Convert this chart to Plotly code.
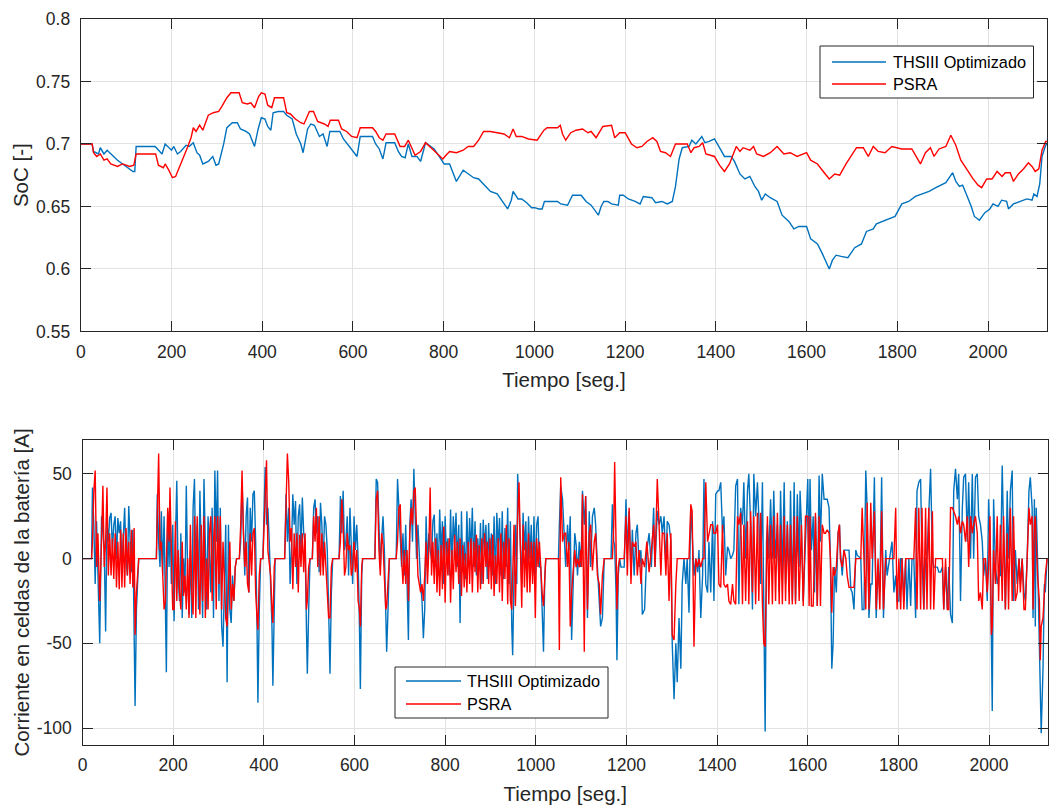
import plotly.graph_objects as go

# ---------------- Upper panel: SoC ----------------
soc_t_ths = [0,25,28,39,43,51,58,66,81,96,107,115,119,122,164,171,179,186,194,200,205,213,220,232,239,248,256,262,269,281,291,298,304,315,322,334,345,352,364,372,383,391,398,406,412,419,424,435,447,454,466,475,485,490,500,507,515,526,534,543,549,564,571,579,594,601,609,616,643,650,658,666,673,692,700,707,715,722,730,741,749,760,768,779,790,801,813,828,843,854,866,877,888,903,918,937,941,949,953,964,972,983,994,1000,1010,1017,1022,1051,1058,1073,1084,1103,1114,1125,1136,1141,1147,1153,1162,1170,1185,1188,1196,1207,1222,1233,1240,1259,1267,1281,1293,1304,1311,1319,1326,1341,1347,1356,1369,1376,1385,1397,1408,1419,1434,1441,1453,1464,1475,1486,1494,1501,1509,1520,1535,1546,1561,1572,1583,1600,1609,1624,1635,1643,1650,1657,1665,1676,1691,1706,1721,1732,1747,1754,1769,1780,1795,1810,1825,1840,1855,1870,1885,1907,1922,1929,1937,1944,1952,1963,1970,1981,1993,2004,2011,2022,2030,2041,2045,2056,2071,2086,2097,2101,2108,2114,2119,2127,2130]
soc_ths = [0.700,0.700,0.694,0.692,0.697,0.692,0.695,0.692,0.687,0.683,0.680,0.678,0.678,0.698,0.698,0.695,0.692,0.700,0.697,0.695,0.698,0.692,0.694,0.699,0.698,0.701,0.693,0.691,0.684,0.686,0.690,0.683,0.684,0.700,0.713,0.717,0.717,0.712,0.710,0.708,0.698,0.712,0.721,0.720,0.714,0.711,0.725,0.726,0.726,0.723,0.720,0.708,0.700,0.693,0.712,0.716,0.715,0.706,0.708,0.698,0.710,0.710,0.710,0.704,0.697,0.694,0.690,0.706,0.706,0.700,0.696,0.688,0.701,0.701,0.694,0.690,0.689,0.700,0.690,0.690,0.686,0.701,0.699,0.696,0.690,0.684,0.684,0.670,0.679,0.676,0.673,0.672,0.668,0.662,0.660,0.650,0.648,0.655,0.662,0.656,0.656,0.653,0.649,0.649,0.648,0.648,0.654,0.654,0.652,0.651,0.659,0.659,0.654,0.651,0.645,0.643,0.650,0.654,0.654,0.652,0.651,0.659,0.659,0.656,0.654,0.652,0.658,0.657,0.653,0.654,0.652,0.654,0.666,0.688,0.697,0.698,0.703,0.700,0.706,0.701,0.702,0.704,0.697,0.690,0.690,0.686,0.676,0.672,0.674,0.666,0.662,0.655,0.660,0.657,0.654,0.643,0.638,0.632,0.634,0.634,0.624,0.620,0.612,0.605,0.600,0.607,0.611,0.610,0.609,0.617,0.620,0.630,0.632,0.636,0.638,0.640,0.642,0.652,0.654,0.658,0.660,0.662,0.665,0.669,0.677,0.670,0.666,0.667,0.660,0.650,0.642,0.639,0.645,0.648,0.652,0.650,0.655,0.654,0.648,0.652,0.654,0.656,0.655,0.660,0.658,0.668,0.690,0.699,0.700]

soc_t_psra = [0,25,28,35,43,51,58,66,81,92,100,107,117,122,165,171,182,186,194,202,209,217,228,236,243,248,254,262,269,281,292,304,311,322,331,349,356,367,375,383,392,398,406,412,421,427,447,454,462,473,485,492,504,513,522,537,545,550,568,575,586,597,609,616,643,650,658,666,673,692,704,714,722,730,737,749,760,775,786,798,805,813,828,843,854,866,877,888,903,918,933,945,953,960,972,987,999,1006,1021,1028,1051,1057,1062,1069,1080,1092,1106,1118,1125,1136,1151,1170,1177,1188,1200,1214,1226,1237,1248,1261,1270,1278,1289,1300,1311,1337,1345,1352,1363,1371,1378,1397,1408,1419,1430,1445,1453,1460,1475,1483,1490,1505,1520,1535,1550,1564,1579,1600,1609,1624,1639,1650,1662,1673,1687,1702,1710,1725,1736,1747,1758,1773,1788,1810,1832,1851,1862,1873,1881,1892,1907,1918,1929,1940,1952,1967,1978,1986,1997,2009,2020,2031,2038,2049,2056,2067,2078,2089,2097,2104,2112,2119,2127,2130]
soc_psra = [0.700,0.700,0.693,0.690,0.692,0.687,0.688,0.684,0.682,0.684,0.683,0.682,0.683,0.692,0.692,0.683,0.681,0.684,0.679,0.673,0.674,0.681,0.690,0.698,0.705,0.713,0.710,0.715,0.711,0.723,0.725,0.726,0.730,0.737,0.741,0.741,0.733,0.732,0.733,0.729,0.738,0.741,0.740,0.731,0.729,0.737,0.737,0.725,0.724,0.720,0.717,0.716,0.726,0.726,0.718,0.716,0.714,0.719,0.719,0.712,0.710,0.706,0.705,0.713,0.713,0.710,0.705,0.703,0.708,0.708,0.698,0.698,0.703,0.697,0.691,0.694,0.701,0.696,0.692,0.688,0.691,0.694,0.693,0.695,0.698,0.698,0.703,0.710,0.710,0.709,0.708,0.705,0.712,0.706,0.706,0.704,0.703,0.703,0.711,0.713,0.713,0.715,0.708,0.703,0.709,0.711,0.712,0.709,0.710,0.705,0.714,0.715,0.705,0.709,0.709,0.700,0.697,0.698,0.702,0.705,0.702,0.694,0.693,0.690,0.700,0.700,0.693,0.697,0.698,0.701,0.692,0.690,0.683,0.678,0.684,0.698,0.694,0.697,0.695,0.698,0.692,0.690,0.693,0.698,0.692,0.693,0.690,0.693,0.687,0.684,0.677,0.672,0.676,0.675,0.684,0.692,0.697,0.697,0.690,0.698,0.694,0.693,0.698,0.696,0.696,0.684,0.693,0.697,0.690,0.696,0.698,0.707,0.699,0.687,0.680,0.672,0.667,0.665,0.672,0.672,0.678,0.674,0.677,0.677,0.670,0.676,0.680,0.685,0.682,0.678,0.680,0.695,0.702,0.702]

# ---------------- Lower panel: battery cell current [A] ----------------
t_a = [0,20,22,25,28,31,34,38,42,45,48,51,54,57,60,63,66,69,72,75,78,81,84,87,90,93,96,99,102,105,108,111,114,116,119,124,
       163,165,168,171,174,177,180,183,185,188,191,193,196,199,202,205,208,211,214,217,220,223,226,229,232,235,238,241,244,247,250,253,256,259,262,265,268,271,274,277,280,283,286,289,292,295,298,301,304,307,310,313,316,319,322,325,328,331,334,337,340,
       346,349,352,355,358,361,364,367,370,373,376,379,382,385,387,390,393,398,401,403,406,409,412,415,418,420,423,425,
       446,449,452,455,458,461,464,467,470,473,476,479,482,485,488,491,494,496,499,502,507,510,513,516,519,522,525,528]
ths_a = [0,0,42,20,-15,22,-8,-50,25,15,5,-43,22,10,24,27,5,20,25,0,24,15,22,-5,10,30,0,-10,31,5,-8,17,-45,-87,-30,0,
         0,38,10,-5,28,-10,25,-57,-67,28,-5,30,-15,20,-37,10,46,-10,-25,15,-35,0,-20,43,-10,-33,5,-35,30,47,-10,20,-30,40,5,-35,47,10,-30,25,-5,-20,30,-35,52,10,52,-25,30,-40,-52,-20,20,-73,20,-30,-38,-10,-25,-5,0,
         0,10,45,20,-10,25,36,-20,30,10,38,40,10,-40,-85,-30,0,0,30,54,20,30,10,-15,-40,-75,-20,0,
         0,38,10,30,-15,5,38,20,34,-15,25,32,5,36,15,10,-40,-68,-30,0,0,30,35,15,25,-8,33,20]
psra_a = [0,0,10,40,52,-5,15,-25,10,43,-5,10,42,-10,15,-10,12,-12,15,-17,10,-18,17,-17,15,-17,18,-10,10,-15,17,-17,18,-45,-20,0,
          0,20,62,5,10,-10,-30,-25,-5,30,10,42,5,-30,-30,22,-25,5,-20,-30,10,-22,-10,-30,0,-35,20,-20,-33,25,-35,25,-10,-33,20,-25,25,-35,0,-30,15,25,-25,10,25,-30,25,-15,25,-30,10,-20,-35,-40,-15,10,-30,-15,-25,-5,0,
          0,20,52,15,-5,10,-15,-20,15,-10,15,18,-20,-35,-42,-10,0,0,20,40,58,5,-5,-10,-30,-38,-5,0,
          0,25,62,45,10,18,-18,15,-5,15,-20,14,-5,15,-8,15,-30,-25,-5,0,0,25,10,30,-5,25,-10,15]

t_b = [531,534,537,540,543,546,549,552,
       566,569,572,575,578,581,584,587,590,593,596,599,602,605,608,611,613,616,618,
       645,648,651,654,657,660,663,666,669,671,674,677,
       692,695,698,701,704,707,710,713,716,719,722,725,728,731,734,737,740,743,746,749,752,755,758,761,764,767,770,773]
ths_b = [-5,25,20,5,-30,-68,-20,0,
         0,37,15,40,5,10,25,-10,30,0,-15,25,5,20,0,-40,-77,-10,0,
         0,47,45,20,-5,12,25,5,-40,-55,-30,0,
         0,47,30,10,-5,15,-10,20,-15,-48,20,35,10,53,25,0,20,0,-15,-25,-47,-30,25,-5,15,5,0,22]
psra_b = [-10,10,-5,-25,-35,-35,-5,0,
          0,10,35,20,-10,-5,15,5,8,-10,-5,10,-8,5,-25,-30,-40,-5,0,
          0,35,40,5,-10,15,8,-10,-30,-28,-15,0,
          0,10,30,32,0,-15,5,-15,5,-25,15,30,20,40,42,10,-10,-15,-20,-15,-25,-10,10,-15,5,42,-10,10]

t_c = [776,779,782,785,788,791,794,797,800,803,806,809,812,815,818,821,824,827,830,833,836,839,842,845,848,851,854,857,860,863,866,869,872,875,878,881,884,887,890,893,896,899,902,905,908,911,914,917,920,923,926,929,932,935,938,941,944,
       947,949,952,955,958,
       960,963,966,969,972,975,978,981,984,987,990,993,996,999,1002,1005,1008,1011,1014,1017,1020,1022,1048]
ths_c = [26,-5,15,-10,29,2,22,-15,25,0,12,-10,29,-5,25,8,27,-5,20,-38,28,-8,10,-12,28,-5,24,3,30,-5,22,-10,12,-5,21,-15,23,5,20,-12,21,-5,15,-10,25,-15,27,6,24,-10,28,-12,18,-5,30,-15,22,
         -40,-57,-10,20,-15,
         50,30,10,-15,27,5,22,-10,25,0,20,-10,25,-10,20,25,-5,-5,-30,-55,-10,0,0]
psra_c = [-15,12,-20,5,-22,8,-18,19,-26,10,-10,12,-26,5,-18,14,-8,10,-15,12,-22,8,-17,3,-20,10,-15,12,-20,10,-8,14,-20,8,-18,12,-15,15,-5,10,-15,12,-18,14,-22,2,-15,12,-20,15,-25,10,-12,20,-27,12,-25,
          -30,-10,20,-28,10,
          25,45,0,-29,20,-17,10,-20,15,-20,10,-15,10,-35,12,-5,10,-10,-20,-28,-5,0,0]

t_d = [1050,1052,1055,1059,1063,1066,1070,1073,1076,1079,1083,1086,1089,1092,1096,1099,1101,1103,1107,1110,
       1114,1118,1121,1125,1129,1132,1136,1140,1143,1147,1151,1166,1169,1172,1174,1177,1179,1182,1185,1188,
       1195,1199,1202,1206,1210,1213,1217,1221,1224,1228,1232,1235,1240,1245,1250,1255,1260,1263,1268,1272,
       1276,1279,1283,1287,1290,1294,1298,1301,1305,1309,1312,1316,1320,1323,1327,1331,1334,1338,1342,1345,
       1349,1353,1357,1360,1364,1368,1371,1375,1379,1382,1386,1390,1393,1397,1401,1404,1408,1412,1415,1419,
       1423,1426,1430,1434,1437,1441,1445,1448,1452,1456,1459,1463,1467,1470,1474,1478,1481,1485,1489,1492,
       1496,1500,1503,1506,1509,1511,1514,1518,1522,1525,1529,1533,1537,1540,1544,1548,1551,1555,1559,1562,
       1566,1570,1573,1577]
ths_d = [0,20,43,35,10,-5,20,5,25,-48,-10,15,8,-10,10,-5,10,40,20,37,
         -35,28,-5,25,30,20,-5,-25,-40,-35,0,0,32,10,8,-20,-60,-10,0,-5,
         -5,35,5,28,-10,17,-10,15,20,-5,5,-33,-30,5,15,-5,30,-5,28,20,
         25,15,25,-5,22,20,10,-50,-83,-50,-73,-35,-65,-15,0,-15,0,-32,30,15,
         -10,0,-8,5,-35,-10,47,-15,-20,10,-20,22,-25,38,40,40,45,15,25,-10,
         7,5,0,2,5,43,47,-27,30,20,45,0,40,50,20,-30,50,25,45,25,
         -15,45,-40,-102,10,20,0,35,0,40,0,20,-20,40,-10,45,-15,22,-20,40,
         -25,45,-25,38]
psra_d = [0,-54,48,10,15,15,-5,10,-40,-20,-5,5,-5,0,-5,5,-5,38,-55,37,
          -30,15,20,-7,10,15,-10,-15,-33,-10,0,0,0,20,57,10,-30,-5,0,0,
          0,25,-10,30,-15,10,7,10,-10,5,-15,0,-5,10,-8,5,20,-5,47,20,
          -10,15,15,-10,15,-25,15,-45,-48,-15,0,0,0,0,0,0,0,0,32,28,
          -52,0,-5,0,-5,0,0,45,10,15,20,20,15,15,20,-15,-17,20,-15,-17,
          -15,-25,-27,-15,-25,-27,25,20,27,-27,20,-25,22,-27,28,-20,25,-27,27,-25,
          27,-27,-50,-52,0,25,-27,20,-27,25,-25,27,-27,20,-27,25,-25,20,-27,20,
          -27,25,-27,25]

t_e = [1581,1583,1586,1590,1595,1600,1603,1605,1608,1612,1615,1617,1621,1625,1628,1632,1636,1639,1643,1647,
       1650,1653,1656,1659,1663,1667,1670,1672,1676,1680,1684,1687,1691,1695,1698,1702,1706,1709,1717,1720,
       1724,1728,1731,1735,1739,1742,1747,1751,1755,1759,1763,1767,1772,1775,1783,1786,1790,1794,1797,1801,
       1805,1808,1812,1816,1819,1823,1827,1830,1834,1838,1841,1845,1849,1852,1856,1860,1863,1867,1871,1875,
       1878,1882,1886,1889,1893,1897,1900,1904,1908,1911,1915,1919,1922,1926,1930,1933,1937,1941,1944,1948,
       1952,1955,1959,1963,1966,1970,1974,1977,1981,1985,1988,1992,1996,1999,2002,2005,2007,2010,2014,2018,
       2021,2025,2029,2032,2036,2040,2043,2047,2051,2054,2058,2062,2066,2069,2073,2077,2080,2084,2088,2091,
       2095,2097,2100,2102,2104,2107,2111,2113,2115,2119,2122,2124,2128]
ths_e = [-5,40,20,-25,10,47,-5,47,5,25,-20,25,-28,49,10,50,35,35,35,30,
         0,-65,-50,-5,-20,15,20,5,-10,5,5,5,5,-18,-20,-30,5,2,0,-30,
         -30,52,30,-35,-15,-15,48,-35,-5,-20,48,-35,5,-10,5,10,-20,-10,-25,-25,
         0,0,-25,0,-30,0,-28,0,0,-35,40,45,47,0,-30,0,0,30,53,0,
         -5,-5,-5,-8,-8,-5,-30,-5,-30,-5,-33,-38,40,53,35,50,-25,30,48,50,
         10,45,0,50,0,48,50,25,20,10,-10,0,-25,35,10,-45,-90,35,-5,-15,
         -10,-10,55,15,-30,40,0,40,52,-25,5,-15,0,-15,0,-20,-25,0,40,48,
         30,-35,35,-40,30,0,-50,-80,-103,-65,-15,-20,0]
psra_e = [-25,-10,20,-28,25,25,-28,25,-28,-28,20,27,-28,25,-28,20,15,15,17,15,
          0,-32,-5,-10,-5,15,20,0,-5,5,0,-10,-17,-17,-17,-17,0,0,0,30,
          0,-30,33,-30,33,0,28,-30,0,-30,28,-30,0,0,0,0,0,30,-30,0,
          -30,0,-30,0,0,0,0,0,0,30,-30,30,-30,30,-30,30,-30,30,-30,28,
          -30,0,0,0,0,0,-30,0,-30,-30,30,30,28,25,20,25,15,22,20,10,
          25,-5,25,15,20,25,15,-25,-20,-30,0,0,-20,-5,25,-45,-40,5,-15,25,
          -25,20,-25,25,-30,15,-30,30,-25,25,-25,-20,0,-20,0,-30,-30,0,30,20,
          25,-30,20,25,10,-10,-25,-60,-40,-35,-20,-10,0]

t_cur = t_a + t_b + t_c + t_d + t_e
ths_cur = ths_a + ths_b + ths_c + ths_d + ths_e
psra_cur = psra_a + psra_b + psra_c + psra_d + psra_e
assert len(soc_t_ths) == len(soc_ths), (len(soc_t_ths), len(soc_ths))
assert len(soc_t_psra) == len(soc_psra), (len(soc_t_psra), len(soc_psra))
for a, b, c, n in [(t_a, ths_a, psra_a, 'a'), (t_b, ths_b, psra_b, 'b'), (t_c, ths_c, psra_c, 'c'),
                   (t_d, ths_d, psra_d, 'd'), (t_e, ths_e, psra_e, 'e')]:
    assert len(a) == len(b) == len(c), (n, len(a), len(b), len(c))

x_ticks = [0, 200, 400, 600, 800, 1000, 1200, 1400, 1600, 1800, 2000]
soc_ticks = [0.55, 0.6, 0.65, 0.7, 0.75, 0.8]
soc_tick_text = ['0.55', '0.6', '0.65', '0.7', '0.75', '0.8']
cur_ticks = [-100, -50, 0, 50]
cur_tick_text = ['-100', '-50', '0', '50']
series_names = ['THSIII Optimizado', 'PSRA']

BLUE = '#0072BD'
RED = '#FF0000'
AX = '#262626'
GRID = '#e2e2e2'
FONT = 'Liberation Sans, Arial, Helvetica, sans-serif'

fig = go.Figure()
fig.add_trace(go.Scatter(x=soc_t_ths, y=soc_ths, mode='lines', name=series_names[0],
                         line=dict(color=BLUE, width=1.4), xaxis='x', yaxis='y', showlegend=False))
fig.add_trace(go.Scatter(x=soc_t_psra, y=soc_psra, mode='lines', name=series_names[1],
                         line=dict(color=RED, width=1.4), xaxis='x', yaxis='y', showlegend=False))
fig.add_trace(go.Scatter(x=t_cur, y=ths_cur, mode='lines', name=series_names[0],
                         line=dict(color=BLUE, width=1.4), xaxis='x2', yaxis='y2', showlegend=False))
fig.add_trace(go.Scatter(x=t_cur, y=psra_cur, mode='lines', name=series_names[1],
                         line=dict(color=RED, width=1.4), xaxis='x2', yaxis='y2', showlegend=False))

# plot area: x 80..1048, y 18..745 (px)
L, R, T, B = 80, 1, 18, 60
W, H = 1049, 805
PW, PH = W - L - R, H - T - B


def px(x):
    return (x - L) / PW


def py(y):
    return (H - B - y) / PH


axis_common = dict(ticks='inside', ticklen=10, tickwidth=1, tickcolor=AX, showline=True, linecolor=AX,
                   linewidth=1.3, mirror='ticks', showgrid=True, gridcolor=GRID, gridwidth=1, zeroline=False,
                   tickfont=dict(family=FONT, size=17.5, color=AX))

xa = dict(axis_common, range=[0, 2130], tickvals=x_ticks, ticklabelstandoff=4,
          title=dict(text='Tiempo [seg.]', font=dict(family=FONT, size=20.5, color=AX), standoff=12))

fig.update_layout(
    width=W, height=H, margin=dict(l=L, r=R, t=T, b=B), paper_bgcolor='white', plot_bgcolor='white',
    font=dict(family=FONT, color=AX),
    xaxis=dict(xa, domain=[px(80.8), px(1047)], anchor='y'),
    yaxis=dict(axis_common, domain=[py(331.4), py(19)], range=[0.55, 0.8], tickvals=soc_ticks,
               ticktext=soc_tick_text, anchor='x', ticklabelstandoff=6,
               title=dict(text='SoC [-]', font=dict(family=FONT, size=20.5, color=AX), standoff=1)),
    xaxis2=dict(xa, domain=[px(82.5), px(1048)], anchor='y2'),
    yaxis2=dict(axis_common, domain=[py(745), py(440)], range=[-110, 70], tickvals=cur_ticks,
                ticktext=cur_tick_text, anchor='x2', ticklabelstandoff=6,
                title=dict(text='Corriente en celdas de la batería [A]',
                           font=dict(family=FONT, size=20.5, color=AX), standoff=1)),
)

# legends (drawn as boxes, sample lines and text)
def add_legend(x0, y0, x1, y1, line_x0, line_x1, y_rows, text_x):
    fig.add_shape(type='rect', xref='paper', yref='paper', x0=px(x0), x1=px(x1), y0=py(y1), y1=py(y0),
                  line=dict(color=AX, width=1), fillcolor='white', layer='above')
    for name, col, yy in zip(series_names, [BLUE, RED], y_rows):
        fig.add_shape(type='line', xref='paper', yref='paper', x0=px(line_x0), x1=px(line_x1),
                      y0=py(yy), y1=py(yy), line=dict(color=col, width=1.5), layer='above')
        fig.add_annotation(xref='paper', yref='paper', x=px(text_x), y=py(yy), text=name, showarrow=False,
                           xanchor='left', yanchor='middle', font=dict(family=FONT, size=16.3, color='black'))


add_legend(820, 46, 1033.5, 98, 832, 886, [62, 84], 891)
add_legend(395, 667, 608, 718, 406, 461, [681, 704], 465)

fig.write_html('out.html')
